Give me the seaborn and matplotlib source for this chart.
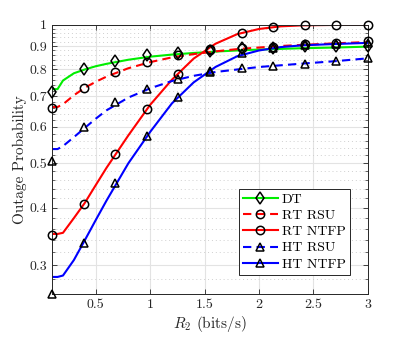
import numpy as np
import pandas as pd
import matplotlib
matplotlib.use("Agg")
import matplotlib.pyplot as plt
import seaborn as sns
from matplotlib.lines import Line2D
from matplotlib.ticker import FixedLocator, NullFormatter, FixedFormatter

# ---------------- data ----------------
series_names = ["DT", "RT RSU", "RT NTFP", "HT RSU", "HT NTFP"]

# analytical curves
x_curve = [0.1, 0.15, 0.2, 0.3, 0.4, 0.5, 0.6, 0.8, 1.0, 1.2, 1.4, 1.6, 1.8, 2.0, 2.2, 2.4, 2.7, 3.0]
dt_curve = [0.725, 0.725, 0.757, 0.785, 0.80, 0.813, 0.823, 0.84, 0.853, 0.862, 0.869, 0.875, 0.88, 0.884, 0.887, 0.89, 0.893, 0.897]
rt_rsu_curve = [0.663, 0.663, 0.672, 0.703, 0.73, 0.752, 0.772, 0.805, 0.83, 0.85, 0.864, 0.876, 0.886, 0.893, 0.90, 0.905, 0.912, 0.918]
rt_ntfp_curve = [0.351, 0.351, 0.353, 0.38, 0.41, 0.448, 0.489, 0.575, 0.67, 0.76, 0.845, 0.91, 0.955, 0.98, 0.993, 0.998, 1.0, 1.0]
ht_rsu_curve = [0.537, 0.537, 0.545, 0.57, 0.597, 0.625, 0.652, 0.695, 0.728, 0.755, 0.775, 0.79, 0.80, 0.81, 0.817, 0.824, 0.834, 0.846]
ht_ntfp_curve = [0.283, 0.283, 0.285, 0.308, 0.34, 0.376, 0.415, 0.50, 0.585, 0.675, 0.75, 0.81, 0.855, 0.88, 0.895, 0.903, 0.909, 0.914]

# simulation points
x_sim = [0.1, 0.39, 0.68, 0.97, 1.26, 1.55, 1.84, 2.13, 2.42, 2.71, 3.0]
dt_sim = [0.715, 0.80, 0.834, 0.86, 0.871, 0.876, 0.89, 0.89, 0.90, 0.90, 0.90]
rt_rsu_sim = [0.659, 0.729, 0.79, 0.831, 0.86, 0.882, 0.892, 0.896, 0.907, 0.912, 0.922]
rt_ntfp_sim = [0.349, 0.407, 0.524, 0.655, 0.784, 0.886, 0.959, 0.992, 1.0, 1.0, 1.0]
ht_rsu_sim = [0.507, 0.601, 0.68, 0.727, 0.761, 0.79, 0.804, 0.813, 0.824, 0.835, 0.848]
ht_ntfp_sim = [0.26, 0.336, 0.453, 0.574, 0.697, 0.793, 0.867, 0.892, 0.9035, 0.907, 0.912]

y_major = [0.3, 0.4, 0.5, 0.6, 0.7, 0.8, 0.9, 1.0]
y_major_labels = ["0.3", "0.4", "0.5", "0.6", "0.7", "0.8", "0.9", "1"]
x_major = [0.5, 1.0, 1.5, 2.0, 2.5, 3.0]
x_major_labels = ["0.5", "1", "1.5", "2", "2.5", "3"]

# ---------------- style ----------------
plt.rcParams["font.family"] = "serif"
plt.rcParams["font.serif"] = ["cmr10", "DejaVu Serif"]
plt.rcParams["mathtext.fontset"] = "cm"
plt.rcParams["axes.formatter.use_mathtext"] = True

colors = {"DT": "#00ee00", "RT RSU": "#ff0000", "RT NTFP": "#ff0000",
          "HT RSU": "#0000ff", "HT NTFP": "#0000ff"}
dash_map = {"DT": "", "RT RSU": (4, 2.5), "RT NTFP": "",
            "HT RSU": (4, 2.5), "HT NTFP": ""}
markers = {"DT": "d", "RT RSU": "o", "RT NTFP": "o", "HT RSU": "^", "HT NTFP": "^"}

curves = [dt_curve, rt_rsu_curve, rt_ntfp_curve, ht_rsu_curve, ht_ntfp_curve]
sims = [dt_sim, rt_rsu_sim, rt_ntfp_sim, ht_rsu_sim, ht_ntfp_sim]

df_curve = pd.concat([pd.DataFrame({"R2": x_curve, "P": c, "series": n})
                      for n, c in zip(series_names, curves)], ignore_index=True)

fig = plt.figure(figsize=(4.07, 3.37), dpi=100)
ax = fig.add_axes([0.128, 0.128, 0.776, 0.798])

sns.lineplot(data=df_curve, x="R2", y="P", hue="series", style="series",
             palette=colors, dashes=dash_map, hue_order=series_names,
             style_order=series_names, linewidth=1.5, legend=False, ax=ax,
             sort=False, estimator=None)

for n, s in zip(series_names, sims):
    ax.plot(x_sim, s, linestyle="none", marker=markers[n], markersize=6 if markers[n] != "d" else 6.5,
            markerfacecolor="none", markeredgecolor="black", markeredgewidth=1.1,
            clip_on=False, zorder=5)

ax.set_yscale("log")
ax.set_xlim(0.1, 3.0)
ax.set_ylim(0.26, 1.0)

ax.yaxis.set_major_locator(FixedLocator(y_major))
ax.yaxis.set_major_formatter(FixedFormatter(y_major_labels))
minor = [round(v, 2) for v in np.arange(0.26, 0.99, 0.02) if round(v, 2) not in [round(m, 2) for m in y_major]]
ax.yaxis.set_minor_locator(FixedLocator(minor))
ax.yaxis.set_minor_formatter(NullFormatter())
ax.xaxis.set_major_locator(FixedLocator(x_major))
ax.xaxis.set_major_formatter(FixedFormatter(x_major_labels))

ax.grid(which="major", color="#e3e3e3", linewidth=0.8, linestyle="-")
ax.grid(which="minor", axis="y", color="#cfcfcf", linewidth=0.7, linestyle=(0, (1, 3)))
ax.set_axisbelow(True)

ax.tick_params(which="both", direction="in", top=True, right=True, colors="#262626",
               labelcolor="#262626", labelsize=10)
ax.tick_params(which="major", length=3.5, width=0.6)
ax.tick_params(which="minor", length=2, width=0.5)
for sp in ax.spines.values():
    sp.set_color("#262626")
    sp.set_linewidth(0.7)

ax.set_xlabel(r"$R_2$ (bits/s)", fontsize=11, color="#262626", labelpad=2)
ax.set_ylabel("Outage Probability", fontsize=11, color="#262626", labelpad=2)

handles = []
for n in series_names:
    ls = "--" if "RSU" in n else "-"
    handles.append(Line2D([0], [0], color=colors[n], linestyle=ls, linewidth=1.5,
                          dashes=(4, 2.5) if ls == "--" else (None, None),
                          marker=markers[n], markerfacecolor="none",
                          markeredgecolor="black", markeredgewidth=1.1, markersize=6))
leg = ax.legend(handles, series_names, loc="lower right", fontsize=10, frameon=True,
                fancybox=False, edgecolor="#262626", framealpha=1, handlelength=2.5,
                borderpad=0.3, labelspacing=0.25, handletextpad=0.3,
                bbox_to_anchor=(0.965, 0.045))
leg.get_frame().set_linewidth(0.7)

fig.savefig("out.png", dpi=100)
